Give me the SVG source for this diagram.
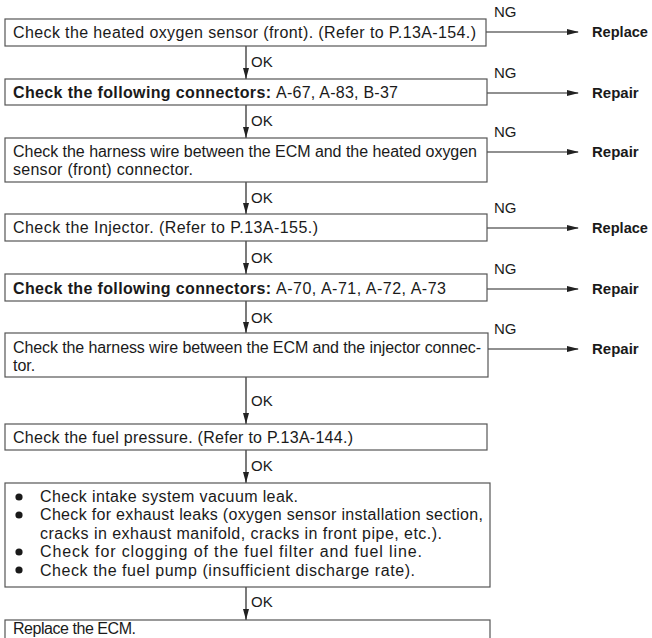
<svg xmlns="http://www.w3.org/2000/svg" width="652" height="638" viewBox="0 0 652 638">
<style>
text{font-family:"Liberation Sans",Arial,sans-serif;font-size:16px;fill:#1a1a1a}
.b{font-weight:bold}
.res{font-weight:bold;font-size:15px}
.box{fill:#fff;stroke:#555;stroke-width:1.2}
.ln{stroke:#222;stroke-width:1.2;fill:none}
.lbl{font-size:15px}
</style>
<defs>
<marker id="ah" markerWidth="12" markerHeight="8" refX="11" refY="4" orient="auto" markerUnits="userSpaceOnUse">
<path d="M0,1 L12,4 L0,7 z" fill="#222"/>
</marker>
<marker id="av" markerWidth="12" markerHeight="8" refX="11" refY="4" orient="auto" markerUnits="userSpaceOnUse">
<path d="M0,1 L11,4 L0,7 z" fill="#222"/>
</marker>
</defs>
<rect width="652" height="638" fill="#fff"/>
<g id="connectors">
<line class="ln" x1="246" y1="46" x2="246" y2="79" marker-end="url(#av)"/>
<line class="ln" x1="246" y1="105" x2="246" y2="138" marker-end="url(#av)"/>
<line class="ln" x1="246" y1="182" x2="246" y2="214" marker-end="url(#av)"/>
<line class="ln" x1="246" y1="241" x2="246" y2="274" marker-end="url(#av)"/>
<line class="ln" x1="246" y1="301" x2="246" y2="333" marker-end="url(#av)"/>
<line class="ln" x1="246" y1="377" x2="246" y2="424" marker-end="url(#av)"/>
<line class="ln" x1="246" y1="450" x2="246" y2="483" marker-end="url(#av)"/>
<line class="ln" x1="246" y1="587" x2="246" y2="620" marker-end="url(#av)"/>
<text class="lbl" x="251" y="67">OK</text>
<text class="lbl" x="251" y="126">OK</text>
<text class="lbl" x="251" y="203">OK</text>
<text class="lbl" x="251" y="263">OK</text>
<text class="lbl" x="251" y="323">OK</text>
<text class="lbl" x="251" y="406">OK</text>
<text class="lbl" x="251" y="471">OK</text>
<text class="lbl" x="251" y="607">OK</text>
<line class="ln" x1="486" y1="32" x2="578" y2="32" marker-end="url(#ah)"/>
<line class="ln" x1="487" y1="93" x2="578" y2="93" marker-end="url(#ah)"/>
<line class="ln" x1="487" y1="152" x2="578" y2="152" marker-end="url(#ah)"/>
<line class="ln" x1="487" y1="228" x2="578" y2="228" marker-end="url(#ah)"/>
<line class="ln" x1="487" y1="289" x2="578" y2="289" marker-end="url(#ah)"/>
<line class="ln" x1="488" y1="349" x2="578" y2="349" marker-end="url(#ah)"/>
<text class="lbl" x="494" y="17">NG</text>
<text class="lbl" x="494" y="78">NG</text>
<text class="lbl" x="494" y="137">NG</text>
<text class="lbl" x="494" y="213">NG</text>
<text class="lbl" x="494" y="274">NG</text>
<text class="lbl" x="494" y="334">NG</text>
</g>
<g id="r1"><text class="res" x="592" y="37" textLength="56" lengthAdjust="spacingAndGlyphs">Replace</text></g>
<g id="r2"><text class="res" x="592" y="98">Repair</text></g>
<g id="r3"><text class="res" x="592" y="157">Repair</text></g>
<g id="r4"><text class="res" x="592" y="233" textLength="56" lengthAdjust="spacingAndGlyphs">Replace</text></g>
<g id="r5"><text class="res" x="592" y="294">Repair</text></g>
<g id="r6"><text class="res" x="592" y="354">Repair</text></g>
<g id="n1">
<rect class="box" x="5" y="19" width="481" height="27"/>
<text x="13" y="38" textLength="463" lengthAdjust="spacing">Check the heated oxygen sensor (front). (Refer to P.13A-154.)</text>
</g>
<g id="n2">
<rect class="box" x="5" y="79" width="482" height="26"/>
<text y="98"><tspan class="b" x="13" textLength="258" lengthAdjust="spacing">Check the following connectors:</tspan><tspan x="276" textLength="122" lengthAdjust="spacing">A-67, A-83, B-37</tspan></text>
</g>
<g id="n3">
<rect class="box" x="5" y="138" width="482" height="44"/>
<text x="13" y="157" textLength="464" lengthAdjust="spacing">Check the harness wire between the ECM and the heated oxygen</text>
<text x="13" y="175" textLength="180" lengthAdjust="spacing">sensor (front) connector.</text>
</g>
<g id="n4">
<rect class="box" x="5" y="214" width="482" height="27"/>
<text x="13" y="233" textLength="305" lengthAdjust="spacing">Check the Injector. (Refer to P.13A-155.)</text>
</g>
<g id="n5">
<rect class="box" x="5" y="274" width="482" height="27"/>
<text y="294"><tspan class="b" x="13" textLength="258" lengthAdjust="spacing">Check the following connectors:</tspan><tspan x="276" textLength="170" lengthAdjust="spacing">A-70, A-71, A-72, A-73</tspan></text>
</g>
<g id="n6">
<rect class="box" x="5" y="333" width="483" height="44"/>
<text x="13" y="353" textLength="468" lengthAdjust="spacing">Check the harness wire between the ECM and the injector connec-</text>
<text x="13" y="371">tor.</text>
</g>
<g id="n7">
<rect class="box" x="5" y="424" width="482" height="26"/>
<text x="13" y="443" textLength="340" lengthAdjust="spacing">Check the fuel pressure. (Refer to P.13A-144.)</text>
</g>
<g id="n8">
<rect class="box" x="5" y="483" width="485" height="104"/>
<circle cx="19" cy="497" r="3.6" fill="#1a1a1a"/>
<circle cx="19" cy="515" r="3.6" fill="#1a1a1a"/>
<circle cx="19" cy="552" r="3.6" fill="#1a1a1a"/>
<circle cx="19" cy="570" r="3.6" fill="#1a1a1a"/>
<text x="40" y="502" textLength="258" lengthAdjust="spacing">Check intake system vacuum leak.</text>
<text x="40" y="520" textLength="443" lengthAdjust="spacing">Check for exhaust leaks (oxygen sensor installation section,</text>
<text x="40" y="539" textLength="402" lengthAdjust="spacing">cracks in exhaust manifold, cracks in front pipe, etc.).</text>
<text x="40" y="557" textLength="382" lengthAdjust="spacing">Check for clogging of the fuel filter and fuel line.</text>
<text x="40" y="576" textLength="375" lengthAdjust="spacing">Check the fuel pump (insufficient discharge rate).</text>
</g>
<g id="n9">
<rect class="box" x="5" y="620" width="485" height="30"/>
<text x="13" y="634" textLength="123" lengthAdjust="spacing">Replace the ECM.</text>
</g>
</svg>
